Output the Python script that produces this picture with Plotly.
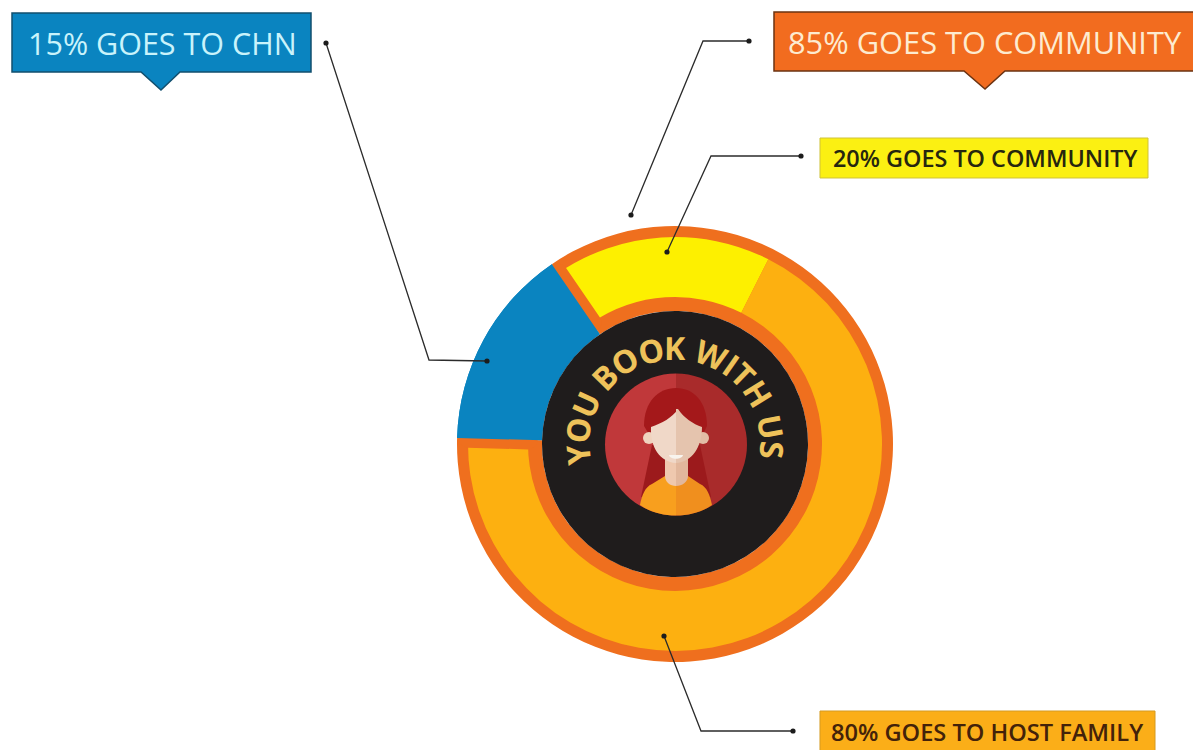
import math
import plotly.graph_objects as go

W, H = 1193, 750

# Share of each booking, in percent
top_split_labels = ["CHN", "Community"]
top_split_values = [15, 85]
# How the community part is divided, in percent of that part
community_split_labels = ["Community projects", "Host family"]
community_split_values = [20, 80]

callout_texts = ["15% GOES TO CHN", "85% GOES TO COMMUNITY",
                 "20% GOES TO COMMUNITY", "80% GOES TO HOST FAMILY"]
center_text = "YOU BOOK WITH US"

BLUE, ORANGE, YELLOW, GOLD = "#0a84c0", "#ef6f1e", "#fdf000", "#fdb010"
CLEAR = "rgba(0,0,0,0)"
CX, CY = 675, 444
ROTATION = -88.4


def px(x):
    return x / W


def py(y):
    return 1 - y / H


def pie(radius, values, labels, colors, hole=0.0, line_widths=None):
    return go.Pie(
        values=values, labels=labels, sort=False, direction="clockwise",
        rotation=ROTATION, hole=hole, textinfo="none", hoverinfo="skip",
        showlegend=False,
        domain=dict(x=[px(CX - radius), px(CX + radius)],
                    y=[py(CY + radius), py(CY - radius)]),
        marker=dict(colors=colors,
                    line=dict(color=ORANGE, width=line_widths or [0] * len(values))),
    )


community_parts = [top_split_values[1] * v / 100 for v in community_split_values]

traces = [
    # Outer disc: the two top-level shares
    pie(218, top_split_values, top_split_labels, [BLUE, ORANGE], hole=133 / 218),
    # Inset ring inside the orange share
    pie(207, [top_split_values[0]] + community_parts,
        ["gap"] + community_split_labels, [CLEAR, YELLOW, GOLD], hole=147 / 207),
    # Orange edge running along both sides of the blue wedge
    pie(207, top_split_values, top_split_labels, [CLEAR, CLEAR], hole=147 / 207,
        line_widths=[19, 0]),
    pie(218, top_split_values, top_split_labels, [BLUE, CLEAR], hole=133 / 218),
    # Dark centre
    pie(133, [1], ["centre"], ["#1f1c1c"]),
]

fig = go.Figure(traces)
shapes = []


def poly(points, fill, line=None, width=0, close=True):
    d = "M " + " L ".join(f"{px(x):.5f},{py(y):.5f}" for x, y in points)
    if close:
        d += " Z"
    shapes.append(dict(type="path", xref="paper", yref="paper", path=d,
                       fillcolor=fill, layer="above",
                       line=dict(color=line or CLEAR, width=width)))


def curve(d_points, fill):
    # d_points is a list of (command, x, y) steps in pixel positions
    parts = []
    for cmd, *xy in d_points:
        if cmd == "Z":
            parts.append("Z")
        else:
            coords = " ".join(f"{px(xy[i]):.5f},{py(xy[i + 1]):.5f}"
                              for i in range(0, len(xy), 2))
            parts.append(f"{cmd} {coords}")
    shapes.append(dict(type="path", xref="paper", yref="paper", path=" ".join(parts),
                       fillcolor=fill, layer="above", line=dict(color=CLEAR, width=0)))


def disc(x, y, r, fill):
    shapes.append(dict(type="circle", xref="paper", yref="paper", layer="above",
                       x0=px(x - r), x1=px(x + r), y0=py(y + r), y1=py(y - r),
                       fillcolor=fill, line=dict(color=CLEAR, width=0)))


def arc(start_deg, end_deg, step):
    return [(AX + AR * math.cos(math.radians(d)), AY + AR * math.sin(math.radians(d)))
            for d in range(start_deg, end_deg, step)]


# Avatar backdrop, split into a lighter and a darker half
AX, AY, AR = 676, 444.5, 71
poly(arc(90, 271, 5), "#c0383a")
poly(arc(-90, 91, 5), "#a92b2b")

# Long hair behind the shoulders
poly([(652, 445), (641, 497), (665, 490), (665, 445)], "#9c1a1c")
poly([(700, 445), (711, 497), (688, 490), (688, 445)], "#9c1a1c")

# Shirt, following the bottom of the backdrop
curve([("M", 640, 505), ("C", 642, 495, 645, 487, 652, 484), ("L", 665, 476),
       ("L", 676, 476), ("L", 676, 515.5),
       ("C", 662, 515.5, 650, 512, 640, 505), ("Z",)], "#f89f1e")
curve([("M", 712, 505), ("C", 710, 495, 707, 487, 700, 484), ("L", 688, 476),
       ("L", 676, 476), ("L", 676, 515.5),
       ("C", 690, 515.5, 702, 512, 712, 505), ("Z",)], "#f08f1e")

# Neck
curve([("M", 665, 452), ("L", 676, 452), ("L", 676, 486),
       ("C", 670, 486, 665, 482, 665, 476), ("Z",)], "#efc8ae")
curve([("M", 676, 452), ("L", 688, 452), ("L", 688, 476),
       ("C", 688, 482, 682, 486, 676, 486), ("Z",)], "#e2b79c")

# Hair cap
curve([("M", 644, 426), ("C", 644, 402, 658, 388, 676, 388),
       ("C", 694, 388, 707, 402, 707, 426), ("L", 702, 436), ("L", 650, 436), ("Z",)],
      "#a4181a")

# Ears and face
disc(649, 438, 6, "#f0d3bf")
disc(703, 438, 6, "#e2bda6")
curve([("M", 678, 409), ("C", 672, 418, 662, 423, 651, 427),
       ("C", 650, 447, 660, 462, 676, 463), ("L", 676, 409), ("Z",)], "#f0d8c8")
curve([("M", 676, 409), ("L", 678, 409), ("C", 684, 418, 693, 424, 702, 427),
       ("C", 702, 447, 692, 462, 676, 463), ("Z",)], "#e5c4ae")
# Smile
curve([("M", 669, 455), ("L", 683, 455), ("C", 682, 460, 670, 460, 669, 455), ("Z",)],
      "#f8f4ee")

# Callout boxes with their pointers
poly([(12, 13), (311, 13), (311, 72), (180, 72), (161, 90), (141, 72), (12, 72)],
     BLUE, "#124f6e", 1.5)
poly([(774, 12), (1196, 12), (1196, 71), (1005, 71), (985, 89), (964, 71), (774, 71)],
     "#f26c1f", "#6b3312", 1.5)
poly([(820, 138), (1148, 138), (1148, 178), (820, 178)], "#fbf012", "#cfc23a", 1)
poly([(820, 711), (1155, 711), (1155, 752), (820, 752)], "#fbae18", "#d59a20", 1)

# Leader lines with a dot at each end
leaders = [
    [(326, 43), (429, 360), (487, 361)],
    [(749, 41), (703, 41), (631, 215)],
    [(801, 156), (711, 156), (667, 252)],
    [(664, 636), (701, 731), (793, 731)],
]
for pts in leaders:
    poly(pts, CLEAR, "#2b2b2b", 1.3, close=False)
    for x, y in (pts[0], pts[-1]):
        disc(x, y, 2.6, "#1c1c1c")


annotations = []


def text(x, y, s, size, color, weight=400, angle=0):
    annotations.append(dict(
        x=px(x), y=py(y), xref="paper", yref="paper", text=s, showarrow=False,
        xanchor="center", yanchor="middle", textangle=angle,
        font=dict(family="Open Sans", size=size, color=color, weight=weight)))


text(162, 43, callout_texts[0], 30.5, "#c9f3fb")
text(985, 42, callout_texts[1], 30.8, "#fdebd0")
text(985, 158, callout_texts[2], 23.4, "#26260f", 600)
text(987, 732, callout_texts[3], 23.6, "#43220a", 600)

# Curved lettering around the avatar, each glyph placed by its advance width
glyph_widths = {"Y": .58, "O": .78, "U": .74, " ": .26, "B": .65, "K": .63,
                "W": .93, "I": .31, "T": .58, "H": .76, "S": .55}
advances = [glyph_widths[c] for c in center_text]
mids = [sum(advances[:i]) + advances[i] / 2 for i in range(len(advances))]
START, END, ARC_R = -96, 93, 98
for ch, m in zip(center_text, mids):
    if ch == " ":
        continue
    theta = START + (END - START) * (m - mids[0]) / (mids[-1] - mids[0])
    rad = math.radians(theta)
    text(CX + ARC_R * math.sin(rad), CY + 1 - ARC_R * math.cos(rad), ch,
         32, "#eec25a", 700, theta)

fig.update_layout(
    width=W, height=H, margin=dict(l=0, r=0, t=0, b=0),
    paper_bgcolor="white", plot_bgcolor="white",
    shapes=shapes, annotations=annotations,
)
fig.write_html("out.html")
